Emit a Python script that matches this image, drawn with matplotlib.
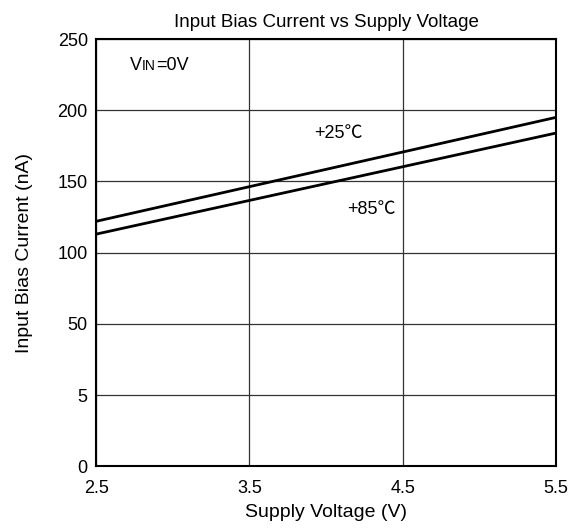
import numpy as np
import matplotlib.pyplot as plt
from matplotlib.offsetbox import TextArea, HPacker, AnchoredOffsetbox

plt.rcParams['font.family'] = ['Liberation Sans', 'Noto Sans CJK SC', 'DejaVu Sans']

# ----- Data -----
supply_v = [2.5, 5.5]
ib_25c = [122, 195]   # nA
ib_85c = [113, 184]   # nA
x_ticks = [2.5, 3.5, 4.5, 5.5]
y_tick_labels = ['0', '5', '50', '100', '150', '200', '250']

# the y axis is not linear: ticks are equally spaced with labels 0,5,50,...,250
def y_pos(v):
    v = np.asarray(v, dtype=float)
    return v / 50.0 + 1.0

fig = plt.figure(figsize=(5.72, 5.28), dpi=100)
ax = fig.add_axes([0.168, 0.117, 0.804, 0.809])

ax.plot(supply_v, y_pos(ib_25c), color='black', lw=2.0, solid_capstyle='butt')
ax.plot(supply_v, y_pos(ib_85c), color='black', lw=2.0, solid_capstyle='butt')

ax.set_xlim(2.5, 5.5)
ax.set_ylim(0, 6)
ax.set_xticks(x_ticks)
ax.set_xticklabels([str(t) for t in x_ticks])
ax.set_yticks(range(len(y_tick_labels)))
ax.set_yticklabels(y_tick_labels)
ax.tick_params(length=0, labelsize=13)
ax.tick_params(axis='x', pad=10)
ax.tick_params(axis='y', pad=6)
ax.grid(True, color='#333333', lw=0.9)
for s in ax.spines.values():
    s.set_linewidth(1.5)
    s.set_color('black')

ax.set_title('Input Bias Current vs Supply Voltage', fontsize=13.5, pad=9)
ax.set_xlabel('Supply Voltage (V)', fontsize=14, labelpad=5)
ax.set_ylabel('Input Bias Current (nA)', fontsize=14, labelpad=18)

ax.text(3.92, 4.68, '+25℃', fontsize=13, va='center', ha='left')
ax.text(4.14, 3.60, '+85℃', fontsize=13, va='center', ha='left')

# V_IN = 0V with small "IN" on the same baseline
parts = HPacker(children=[TextArea('V', textprops=dict(fontsize=13)),
                          TextArea('IN', textprops=dict(fontsize=10)),
                          TextArea('=0V', textprops=dict(fontsize=13))],
                align='baseline', pad=0, sep=0)
box = AnchoredOffsetbox(loc='upper left', child=parts, frameon=False,
                        bbox_to_anchor=(0.074, 0.958), bbox_transform=ax.transAxes,
                        borderpad=0, pad=0)
ax.add_artist(box)

fig.savefig('out.png', dpi=100)
